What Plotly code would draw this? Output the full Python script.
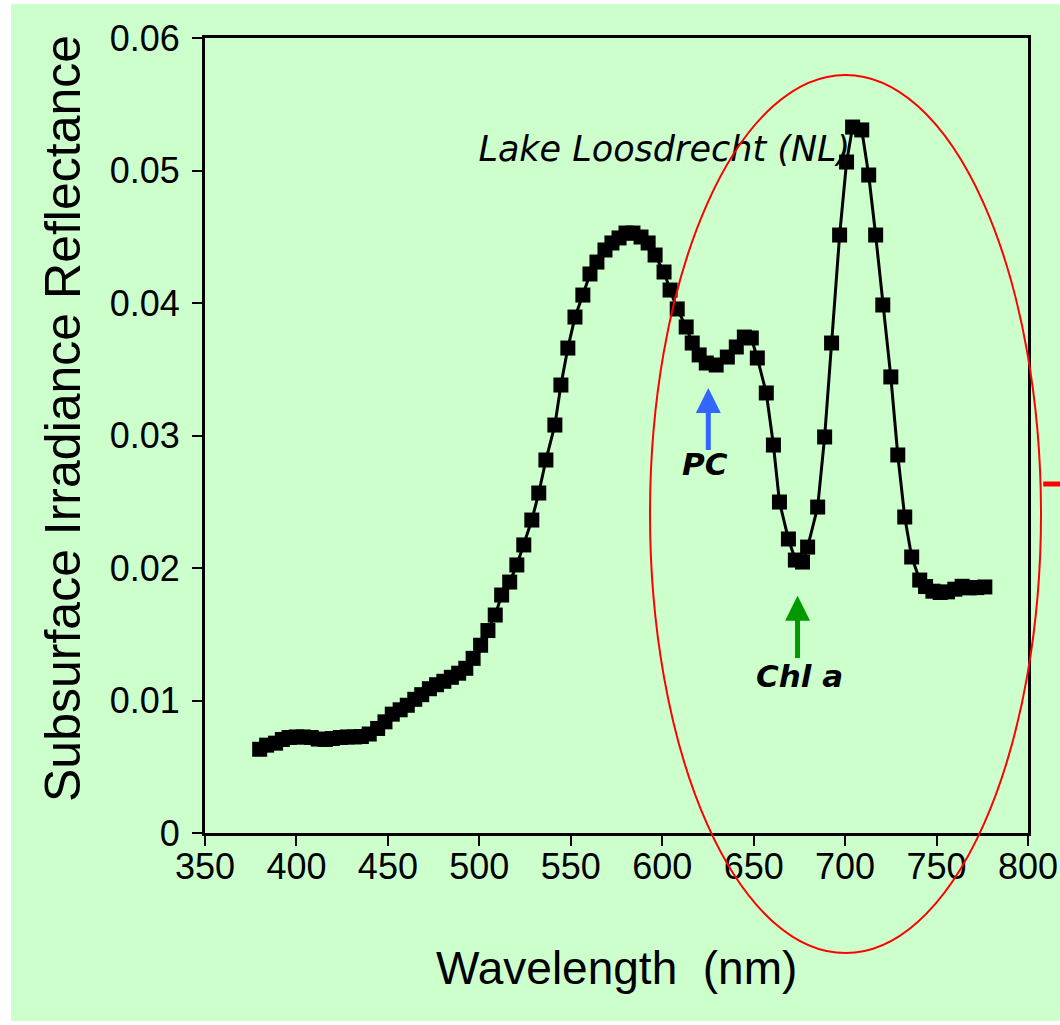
import plotly.graph_objects as go

# Wavelength (nm) and subsurface irradiance reflectance
wavelength = [
    379.9, 383.7, 388.6, 392.3, 396.0, 399.9, 403.7, 408.1, 411.9, 415.8,
    419.6, 424.0, 427.8, 431.7, 435.5, 439.8, 444.4, 448.4, 452.4, 456.7,
    460.6, 464.7, 468.5, 472.7, 476.6, 480.6, 484.7, 488.7, 492.6, 496.6,
    500.7, 504.7, 508.7, 512.2, 516.6, 520.5, 524.3, 528.7, 532.5, 536.4,
    541.3, 544.6, 548.4, 552.3, 556.6, 560.5, 564.3, 568.7, 572.5, 576.4,
    580.2, 584.0, 588.4, 592.3, 596.1, 601.0, 604.3, 608.2, 613.1, 616.4,
    620.2, 624.1, 629.5, 635.6, 640.5, 644.9, 648.7, 652.0, 656.9, 660.8,
    664.1, 669.0, 672.8, 676.7, 679.5, 685.0, 688.8, 692.6, 697.0, 700.8,
    704.1, 709.1, 712.9, 716.7, 720.6, 725.0, 728.8, 732.6, 736.4, 740.8,
    744.0, 748.0, 752.0, 756.0, 760.0, 764.0, 768.0, 772.0, 776.4,
]
reflectance = [
    0.00632, 0.00663, 0.00678, 0.00706, 0.00721, 0.00725, 0.00725, 0.00721, 0.00709, 0.00706,
    0.00713, 0.00721, 0.00725, 0.00725, 0.00728, 0.00747, 0.00789, 0.00839, 0.00897, 0.00930,
    0.00964, 0.01009, 0.01044, 0.01089, 0.01119, 0.01145, 0.01175, 0.01206, 0.01243, 0.01318,
    0.01417, 0.01528, 0.01645, 0.01796, 0.01894, 0.02023, 0.02174, 0.02362, 0.02566, 0.02815,
    0.03079, 0.03381, 0.03660, 0.03894, 0.04060, 0.04219, 0.04309, 0.04400, 0.04453, 0.04491,
    0.04528, 0.04528, 0.04498, 0.04453, 0.04362, 0.04234, 0.04098, 0.03955, 0.03819, 0.03698,
    0.03608, 0.03547, 0.03532, 0.03592, 0.03668, 0.03743, 0.03736, 0.03585, 0.03321, 0.02928,
    0.02498, 0.02219, 0.02060, 0.02045, 0.02158, 0.02460, 0.02989, 0.03698, 0.04513, 0.05064,
    0.05328, 0.05306, 0.04966, 0.04513, 0.03985, 0.03442, 0.02853, 0.02385, 0.02083, 0.01909,
    0.01860, 0.01825, 0.01815, 0.01820, 0.01840, 0.01862, 0.01850, 0.01852, 0.01857,
]

x_ticks = [350, 400, 450, 500, 550, 600, 650, 700, 750, 800]
y_ticks = [0, 0.01, 0.02, 0.03, 0.04, 0.05, 0.06]
y_ticktext = ["0", "0.01", "0.02", "0.03", "0.04", "0.05", "0.06"]

x_title = "Wavelength\u00a0 (nm)"
y_title = "Subsurface Irradiance Reflectance"
site_label = "Lake Loosdrecht (NL)"
pc_label = "PC"
chl_label = "Chl a"

GREEN_BG = "#CCFFCC"
SANS = "Liberation Sans, Arial, sans-serif"
TICK_FONT = dict(family=SANS, size=36, color="black")

fig = go.Figure()

# site label drawn first so that the data markers sit on top of it
fig.add_trace(go.Scatter(
    x=[499.5], y=[0.0514], mode="text", text=[site_label],
    textposition="middle right",
    textfont=dict(family="DejaVu Sans, sans-serif", size=35, color="black", style="italic"),
    hoverinfo="skip", showlegend=False,
))

fig.add_trace(go.Scatter(
    x=wavelength, y=reflectance, mode="lines+markers",
    line=dict(color="black", width=3),
    marker=dict(symbol="square", size=15, color="black", line=dict(width=0)),
    showlegend=False,
))

# arrows
fig.add_annotation(x=625.2, y=0.03358, ax=625.2, ay=0.0288, xref="x", yref="y",
                   axref="x", ayref="y", text="", showarrow=True,
                   arrowhead=2, arrowsize=1, arrowwidth=5, arrowcolor="#3366FF")
fig.add_annotation(x=674.0, y=0.01790, ax=674.0, ay=0.0131, xref="x", yref="y",
                   axref="x", ayref="y", text="", showarrow=True,
                   arrowhead=2, arrowsize=1, arrowwidth=5, arrowcolor="#009900")
fig.add_annotation(x=623.6, y=0.02785, text="<b>" + pc_label + "</b>", showarrow=False,
                   font=dict(family="DejaVu Sans, sans-serif", size=31, color="black", style="italic"))
fig.add_annotation(x=675.3, y=0.01185, text="<b>" + chl_label + "</b>", showarrow=False,
                   font=dict(family="DejaVu Sans, sans-serif", size=31, color="black", style="italic"))

# axis titles placed as paper annotations
fig.add_annotation(x=0.5, y=-0.1698, xref="paper", yref="paper", text=x_title, showarrow=False,
                   xanchor="center", yanchor="middle",
                   font=dict(family=SANS, size=46, color="black"))
fig.add_annotation(x=-0.1725, y=0.5208, xref="paper", yref="paper", text=y_title, showarrow=False,
                   textangle=-90, xanchor="center", yanchor="middle",
                   font=dict(family=SANS, size=50, color="black"))

# background panel, red ellipse and pointer line (decorations, paper coordinates)
fig.add_shape(type="rect", xref="paper", yref="paper", x0=-0.2357, x1=1.05, y0=-0.2365, y1=1.0428,
              fillcolor=GREEN_BG, line=dict(width=0), layer="below")
fig.add_shape(type="circle", xref="paper", yref="paper", x0=0.5407, x1=1.0158, y0=-0.151, y1=0.9535,
              line=dict(color="red", width=2), fillcolor="rgba(0,0,0,0)", layer="above")
fig.add_shape(type="line", xref="paper", yref="paper", x0=1.0185, x1=1.05, y0=0.439, y1=0.439,
              line=dict(color="red", width=5), layer="above")

fig.update_layout(
    width=1060, height=1025,
    margin=dict(l=205, r=32, t=38, b=192, autoexpand=False),
    paper_bgcolor="white", plot_bgcolor=GREEN_BG,
    showlegend=False,
    xaxis=dict(
        range=[350, 800], tickvals=x_ticks, showgrid=False, zeroline=False,
        showline=True, linecolor="black", linewidth=3, mirror=True,
        ticks="outside", ticklen=10, tickwidth=2, tickcolor="black",
        tickfont=TICK_FONT, ticklabelstandoff=-10,
    ),
    yaxis=dict(
        range=[0, 0.06], tickvals=y_ticks, ticktext=y_ticktext, showgrid=False, zeroline=False,
        showline=True, linecolor="black", linewidth=3, mirror=True,
        ticks="outside", ticklen=10, tickwidth=2, tickcolor="black",
        tickfont=TICK_FONT, ticklabelstandoff=5,
    ),
)

fig.write_html("out.html")
